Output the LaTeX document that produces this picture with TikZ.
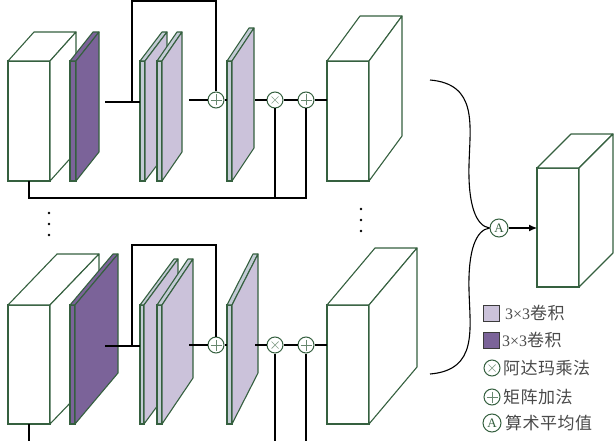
\documentclass[tikz,border=0pt]{standalone}
\usepackage{fontspec}
\setmainfont{Liberation Serif}
\newfontfamily\cjkfam[LetterSpace=3]{Noto Sans CJK SC}
\newcommand{\cjk}{\fontsize{17}{17}\cjkfam}
\usetikzlibrary{arrows.meta}

\definecolor{edge}{HTML}{35603F}
\definecolor{deep}{HTML}{7B6399}
\definecolor{pale}{HTML}{CBC2DA}
\definecolor{paleface}{HTML}{C3CBD5}
\definecolor{legtext}{HTML}{4A4A4A}

% #1 name, #2 x, #3 y (top of front face), #4 width, #5 height,
% #6 #7 depth offset, #8 front/top fill, #9 side fill
\newcommand{\block}[9]{%
  \node[faceframe, fill=#8, minimum width=#4, minimum height=#5,
        anchor=north west] (#1) at (#2,#3) {};
  \filldraw[faceline, fill=#8] (#1.north west) -- ++(#6,#7) -- ++(#4,0)
      -- (#1.north east) -- cycle;
  \filldraw[faceline, fill=#9] (#1.north east) -- ++(#6,#7) -- ++(0,#5)
      -- (#1.south east) -- cycle;
}

\tikzset{
  faceframe/.style={draw=edge, line width=1.1pt, inner sep=0pt, outer sep=0pt},
  faceline/.style={draw=edge, line width=1.1pt, line join=round},
  wire/.style={draw=black, line width=1.1pt},
  opc/.style={circle, draw=edge, fill=white, minimum size=16, inner sep=0pt,
              line width=1pt},
  % y runs downward in this picture, so the offsets after ++ are in picture units
  plusop/.style={opc, path picture={
      \draw[edge!75, line width=0.8pt]
        ([xshift=-5.5pt]path picture bounding box.center) -- ++(11,0)
        ([yshift=5.5pt]path picture bounding box.center) -- ++(0,11);}},
  timesop/.style={opc, path picture={
      \draw[edge!60, line width=0.7pt]
        ([shift={(-3.5pt,3.5pt)}]path picture bounding box.center) -- ++(7,7)
        ([shift={(-3.5pt,-3.5pt)}]path picture bounding box.center) -- ++(7,-7);}},
  avgop/.style={opc, minimum size=18, text=edge,
      font=\fontsize{13}{13}\selectfont},
  dot/.style={circle, fill=black, inner sep=0pt, minimum size=2.6},
  swatch/.style={draw=legtext!80!black, line width=0.9pt, minimum width=16,
                 minimum height=16, inner sep=0pt},
  legend/.style={anchor=west, text=legtext, inner sep=0pt,
                 font=\fontsize{16}{16}\selectfont},
}

\begin{document}
\begin{tikzpicture}[x=1pt, y=-1pt]
\useasboundingbox (0,0) rectangle (615,441);

% ---------------- upper branch ----------------
\block{ca}{8}{61}{42}{120}{26}{-29}{white}{white}
\block{da}{70}{61}{6}{120}{23}{-29}{deep}{deep}
\block{la}{140}{61}{5}{120}{22}{-29}{paleface}{pale}
\block{lb}{157}{61}{5}{120}{20}{-29}{paleface}{pale}
\block{lc}{227}{61}{5}{120}{22}{-33}{paleface}{pale}
\block{ra}{327}{61}{42}{120}{33}{-45}{white}{white}

\node[plusop]  (pa) at (216,100) {};
\node[timesop] (ma) at (275,100) {};
\node[plusop]  (qa) at (306,100) {};

\coordinate (sa) at (105,102);
\coordinate (ba) at (132,102);
\coordinate (oa) at (189,100);
\coordinate (ea) at (255,100);
\coordinate (ja) at (306,198);

\draw[wire] (sa) -- (sa -| la.west);
\draw[wire] (ba) -- ++(0,-101) -| (pa.north);
\draw[wire] (oa) -- (pa.west);
\draw[wire] (pa.east) -- (pa.east -| lc.west);
\draw[wire] (ea) -- (ma.west);
\draw[wire] (ma.east) -- (qa.west);
\draw[wire] (qa.east) -- (qa.east -| ra.west);
\draw[wire] (ca.south) |- (ja) -- (qa.south);
\draw[wire] (ma.south) -- (ma.south |- ja);

% ---------------- lower branch ----------------
\block{cb}{8}{305}{42}{119}{49}{-51}{white}{white}
\block{db}{70}{305}{5}{119}{43}{-51}{deep}{deep}
\block{ld}{140}{305}{4}{119}{34}{-46}{paleface}{pale}
\block{le}{157}{305}{5}{119}{31}{-46}{paleface}{pale}
\block{lf}{227}{305}{5}{119}{26}{-51}{paleface}{pale}
\block{rb}{327}{305}{42}{119}{48}{-57}{white}{white}

\node[plusop]  (pb) at (216,345) {};
\node[timesop] (mb) at (275,345) {};
\node[plusop]  (qb) at (306,345) {};

\coordinate (sb) at (105,346);
\coordinate (bb) at (132,346);
\coordinate (ob) at (189,345);
\coordinate (eb) at (255,345);
\coordinate (jb) at (306,441);

\draw[wire] (sb) -- (sb -| ld.west);
\draw[wire] (bb) -- ++(0,-101) -| (pb.north);
\draw[wire] (ob) -- (pb.west);
\draw[wire] (pb.east) -- (pb.east -| lf.west);
\draw[wire] (eb) -- (mb.west);
\draw[wire] (mb.east) -- (qb.west);
\draw[wire] (qb.east) -- (qb.east -| rb.west);
\draw[wire] (cb.south) -- (cb.south |- jb);
\draw[wire] (mb.south) -- (mb.south |- jb);
\draw[wire] (qb.south) -- (jb);

% ---------------- ellipsis dots ----------------
\foreach \k/\y in {1/213, 2/224, 3/235} \node[dot] (dl\k) at (49,\y) {};
\foreach \k/\y in {1/209, 2/220, 3/231} \node[dot] (dr\k) at (361,\y) {};

% ---------------- averaging and output ----------------
\block{out}{537}{168}{42}{119}{34}{-34}{white}{white}
\node[avgop] (avg) at (499,228) {A};

\coordinate (ua) at (430,80);
\coordinate (ub) at (430,374);
\draw[wire] (ua) .. controls (478,84) and (470,125) .. (469,165)
                 .. controls (468,205) and (476,226) .. (avg.west);
\draw[wire] (ub) .. controls (478,370) and (470,330) .. (469,290)
                 .. controls (468,250) and (476,230) .. (avg.west);
\draw[wire, -{Latex[length=8pt, width=7pt]}] (avg.east) -- (out.west |- avg);

% ---------------- legend ----------------
\node[swatch, fill=pale] (k1) at (491,313) {};
\node[legend] (t1) at (505,313) {3×3{\cjk 卷积}};
\node[swatch, fill=deep] (k2) at (491,340) {};
\node[legend] (t2) at (502,340) {3×3{\cjk 卷积}};
\node[timesop] (k3) at (492,368) {};
\node[legend] (t3) at (503,368) {\cjk 阿达玛乘法};
\node[plusop] (k4) at (492,397) {};
\node[legend] (t4) at (503,397) {\cjk 矩阵加法};
\node[avgop] (k5) at (492,423) {A};
\node[legend] (t5) at (505,423) {\cjk 算术平均值};
\end{tikzpicture}
\end{document}
